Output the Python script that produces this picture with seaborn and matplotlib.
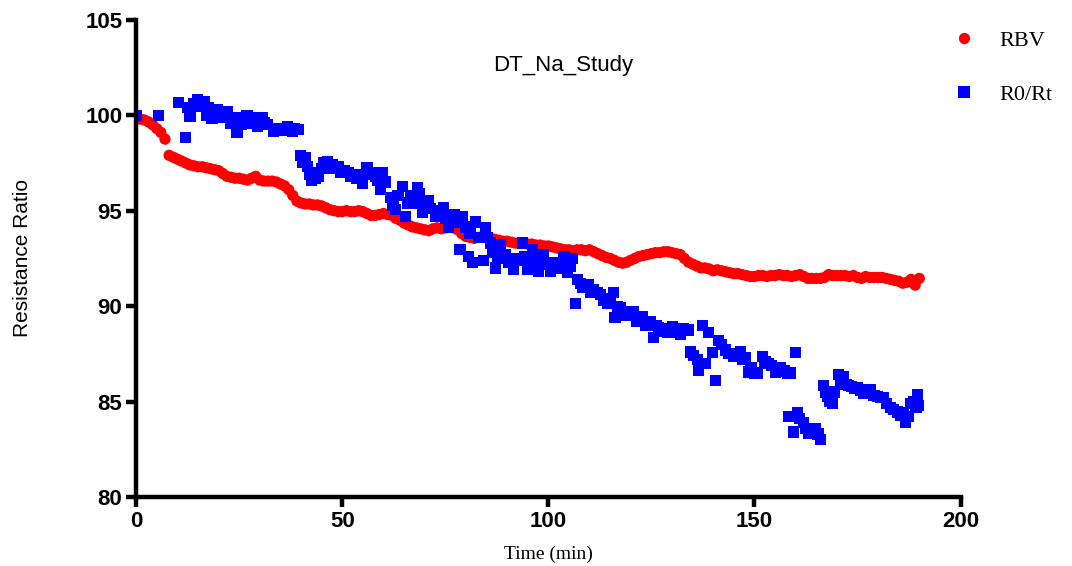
import pandas as pd
import matplotlib.pyplot as plt
import seaborn as sns

# RBV: one reading per minute, 0..190 min
rbv_time = list(range(0, 191))
rbv_ratio = [
    99.9, 99.8, 99.75, 99.65, 99.5, 99.3, 99.1, 98.75, 97.9, 97.8,
    97.7, 97.6, 97.5, 97.4, 97.35, 97.3, 97.3, 97.25, 97.2, 97.15,
    97.1, 96.95, 96.8, 96.75, 96.7, 96.7, 96.65, 96.6, 96.7, 96.8,
    96.6, 96.55, 96.55, 96.55, 96.5, 96.4, 96.3, 96.1, 95.8, 95.5,
    95.4, 95.35, 95.35, 95.3, 95.3, 95.25, 95.15, 95.05, 95.0, 94.95,
    94.95, 95.0, 94.95, 94.95, 95.0, 94.95, 94.85, 94.75, 94.75, 94.8,
    94.85, 94.8, 94.75, 94.6, 94.5, 94.35, 94.25, 94.15, 94.1, 94.05,
    94.0, 93.95, 94.05, 94.1, 94.05, 94.1, 94.15, 94.1, 94.0, 93.8,
    93.65, 93.6, 93.55, 93.6, 93.65, 93.6, 93.55, 93.5, 93.45, 93.4,
    93.4, 93.35, 93.3, 93.3, 93.3, 93.25, 93.25, 93.2, 93.2, 93.15,
    93.15, 93.1, 93.05, 93.0, 92.95, 92.95, 92.9, 92.95, 92.95, 92.9,
    92.95, 92.85, 92.75, 92.65, 92.55, 92.5, 92.4, 92.3, 92.25, 92.3,
    92.4, 92.5, 92.6, 92.65, 92.7, 92.75, 92.8, 92.8, 92.85, 92.85,
    92.8, 92.75, 92.7, 92.5, 92.3, 92.2, 92.1, 92.0, 92.0, 91.95,
    91.85, 91.9, 91.85, 91.8, 91.75, 91.7, 91.7, 91.65, 91.6, 91.55,
    91.55, 91.6, 91.6, 91.55, 91.6, 91.6, 91.65, 91.6, 91.6, 91.55,
    91.6, 91.65, 91.55, 91.45, 91.45, 91.45, 91.45, 91.5, 91.65, 91.6,
    91.6, 91.6, 91.6, 91.55, 91.6, 91.5, 91.45, 91.55, 91.5, 91.5,
    91.5, 91.5, 91.45, 91.4, 91.35, 91.3, 91.2, 91.25, 91.4, 91.1,
    91.45,
]

# R0/Rt: scattered readings
rt_time = [
    0, 5.4, 10.2, 11.9, 12.6, 13.1, 14, 14.8, 15.5, 16, 16.5, 17.2, 17.5, 18.4, 18.8,
    19.2, 19.7, 20.2, 20.9, 21.5, 22.1, 23, 23.5, 24.5, 25.2, 25.6, 26.2, 26.9, 27.5,
    28.2, 29, 29.4, 30.6, 31.1, 31.8, 33.3, 34, 35, 36, 36.7, 37.9, 38.5, 39.3,
    39.8, 40.5, 41, 41.5, 42, 42.5, 43, 43.5, 44.2, 45, 45.5, 46.4, 47, 47.5, 48.2,
    49, 49.5, 50.5, 51.5, 52, 53, 53.5, 54.9, 55.5, 56, 57, 58, 58.5, 59.2, 59.7,
    60.5, 61.7, 62.3, 62.9, 63.5, 64.6, 65.3, 65.8, 66.5, 67.3, 68.2, 68.8, 69.4,
    70, 70.9, 71.5, 72.6, 73.3, 74.5, 75, 75.7, 76.5, 77.3, 78, 78.6, 79.1, 79.9,
    80.6, 81, 81.6, 82.3, 83, 84.2, 84.7, 85.3, 85.9, 86.5, 87.1, 87.7, 88.3, 89,
    89.6, 90.3, 91.5, 92.2, 93, 93.7, 94.3, 94.9, 95.5, 96.1, 96.8, 97.6, 98.2,
    98.8, 99.5, 100.5, 101.2, 102.2, 103, 103.8, 104.6, 105.3, 105.8, 106.6, 107,
    107.8, 108.4, 109, 109.7, 110.3, 110.9, 111.8, 112.6, 113.4, 114.3, 115, 115.8,
    116.2, 116.7, 117.4, 118.2, 119, 119.9, 120.6, 121.5, 122.2, 122.8, 123.7,
    124.8, 125.5, 126.1, 126.7, 127.6, 128.9, 129.4, 130.1, 131, 132, 132.8, 134,
    134.5, 135.3, 136.2, 136.4, 137.4, 138.1, 138.8, 139.8, 140.5, 141.3, 142, 143,
    143.8, 144.9, 145.6, 146.6, 147.2, 147.8, 148.5, 149.2, 150, 150.7, 151.9,
    152.6, 153.4, 154.2, 155.1, 155.7, 156.3, 157.2, 158, 158.7, 159.9, 158.3,
    159.5, 160.4, 160.9, 161.9, 162.5, 163.1, 164, 164.8, 165.4, 166, 166.7, 167.2,
    167.7, 168.3, 168.9, 169.5, 170.4, 170.9, 171.6, 172.2, 172.8, 173.6, 174.3,
    175, 175.8, 176.5, 177.3, 178.2, 179, 179.9, 180.6, 181.3, 182.1, 183, 183.8,
    184.7, 185.5, 186.2, 186.7, 187.3, 187.9, 188.6, 189.2, 189.6, 189.8,
]
rt_ratio = [
    100.0, 100.0, 100.65, 98.85, 100.4, 99.95, 100.6, 100.8, 100.5, 100.45, 100.7,
    100.0, 100.4, 99.85, 100.3, 100.1, 100.3, 100.0, 99.9, 100.2, 100.2, 99.6,
    99.9, 99.1, 99.85, 99.5, 99.7, 100.0, 99.6, 99.75, 99.9, 99.4, 99.9, 99.6,
    99.5, 99.15, 99.3, 99.25, 99.2, 99.4, 99.15, 99.3, 99.25,
    97.9, 97.55, 97.8, 97.3, 96.9, 96.6, 97.0, 96.7, 96.8, 97.2, 97.5, 97.55,
    97.2, 97.4, 97.3, 97.3, 97.0, 97.1, 97.0, 96.8, 96.9, 96.7, 96.45, 96.9,
    97.25, 97.0, 96.8, 96.6, 96.1, 97.0, 96.5, 95.7, 95.3, 95.05, 95.8, 96.25,
    94.7, 95.4, 95.8, 95.4, 96.2, 95.9, 94.9, 95.3, 95.55, 95.1, 94.7, 95.0,
    95.15, 94.6, 94.15, 94.5, 94.8, 94.4, 92.95, 94.7, 94.15, 92.6, 93.8, 92.3,
    94.4, 93.6, 92.4, 94.1, 93.6, 93.3, 92.8, 92.0, 92.6, 93.2, 92.5, 92.7, 92.3,
    91.9, 92.5, 92.4, 93.3, 92.6, 91.9, 92.5, 92.95, 92.3, 91.8, 92.4, 92.7, 92.2,
    91.8, 92.3, 92.3, 92.0, 92.6, 91.75, 92.1, 92.5, 90.15, 91.4, 91.2, 91.0,
    91.0, 91.1, 90.7, 90.85, 90.7, 90.6, 90.3, 90.15, 90.4, 90.7, 89.4, 89.95,
    89.9, 89.7, 89.5, 89.55, 89.7, 89.2, 89.3, 89.45, 89.0, 89.2, 88.35, 89.0,
    88.85, 88.7, 88.6, 88.8, 88.9, 88.6, 88.5, 88.8, 88.75, 87.6, 87.4, 87.2,
    86.65, 89.0, 87.0, 88.6, 87.55, 86.1, 88.2, 88.0, 87.7, 87.5, 87.35, 87.5,
    87.6, 87.2, 87.3, 86.55, 86.8, 86.5, 86.5, 87.35, 87.1, 87.0, 86.9, 86.55,
    86.7, 86.8, 86.6, 86.5, 86.5, 87.55, 84.2, 83.4, 84.4, 84.1, 83.9, 83.6,
    83.35, 83.5, 83.6, 83.3, 83.0, 85.85, 85.5, 85.25, 85.0, 84.9, 85.5, 86.4,
    85.95, 86.3, 85.9, 85.85, 85.8, 85.7, 85.75, 85.6, 85.45, 85.5, 85.6, 85.3,
    85.25, 85.2, 85.2, 84.9, 84.7, 84.6, 84.45, 84.3, 84.4, 83.9, 84.2, 84.9,
    85.0, 84.7, 85.35, 84.8,
]

df = pd.concat([
    pd.DataFrame({'Time': rbv_time, 'Ratio': rbv_ratio, 'Series': 'RBV'}),
    pd.DataFrame({'Time': rt_time, 'Ratio': rt_ratio, 'Series': 'R0/Rt'}),
], ignore_index=True)

sns.set_style('white')
plt.rcParams['font.family'] = ['Liberation Sans', 'DejaVu Sans']
plt.rcParams['text.color'] = 'black'
plt.rcParams['axes.labelcolor'] = 'black'

fig = plt.figure(figsize=(10.72, 5.66), dpi=100)
ax = fig.add_axes([0.127, 0.122, 0.769, 0.843])

sns.scatterplot(data=df, x='Time', y='Ratio', hue='Series', style='Series',
                palette={'RBV': '#ff0000', 'R0/Rt': '#0000ff'},
                markers={'RBV': 'o', 'R0/Rt': 's'},
                s=66, linewidth=0, ax=ax)

ax.set_xlim(0, 200)
ax.set_ylim(80, 105)
ax.set_xticks([0, 50, 100, 150, 200])
ax.set_yticks([80, 85, 90, 95, 100, 105])
sns.despine(ax=ax)
for side in ['left', 'bottom']:
    ax.spines[side].set_linewidth(3.2)
    ax.spines[side].set_color('black')
ax.tick_params(direction='out', length=7, width=3.2, labelsize=16, pad=3,
               left=True, bottom=True, color='black', labelcolor='black')
for lbl in ax.get_xticklabels() + ax.get_yticklabels():
    lbl.set_fontweight('bold')

ax.set_xlabel('Time (min)', family='Liberation Serif', fontsize=14, labelpad=10)
ax.set_ylabel('Resistance Ratio', fontsize=15, labelpad=38)
ax.text(103.6, 102.6, 'DT_Na_Study', ha='center', va='center', fontsize=16)

sns.move_legend(ax, 'upper left', bbox_to_anchor=(0.86, 0.982),
                bbox_transform=fig.transFigure, frameon=False, title=None,
                labelspacing=1.5, handletextpad=0.6, markerscale=1.0,
                prop={'family': 'Liberation Serif', 'size': 16})

fig.savefig('out.png', dpi=100)
